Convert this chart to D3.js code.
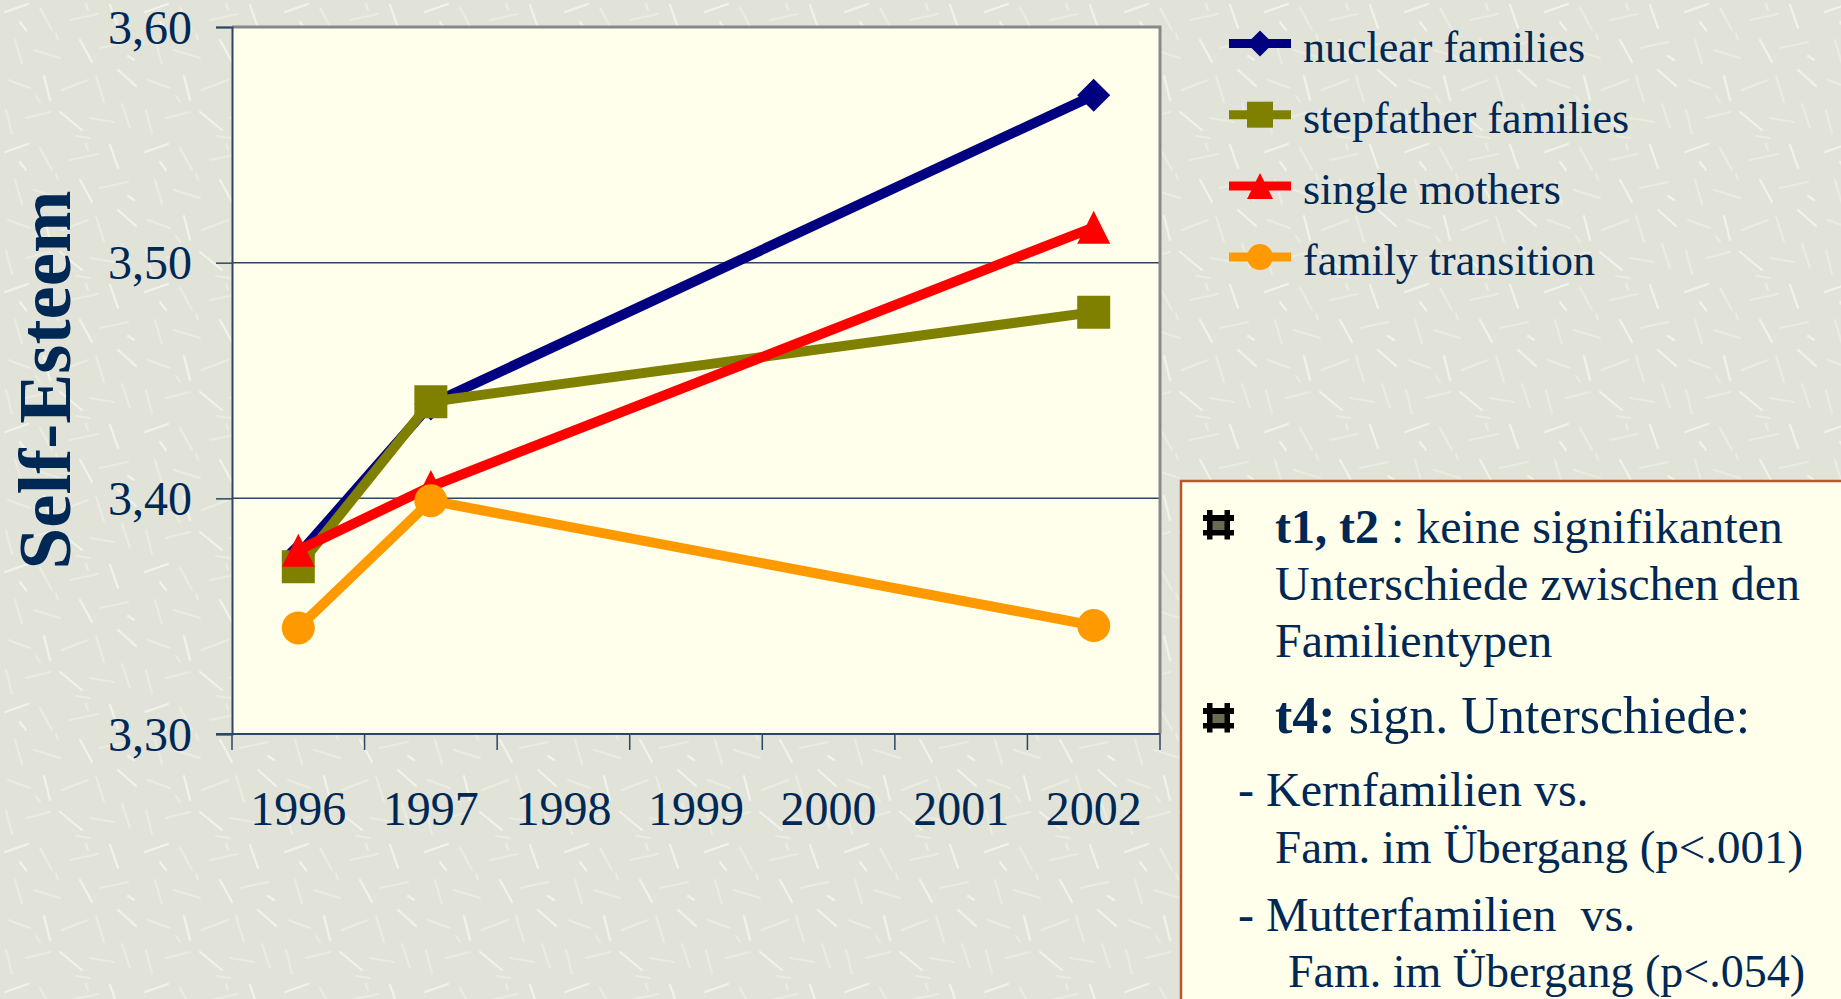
<!DOCTYPE html>
<html>
<head>
<meta charset="utf-8">
<script src="https://cdn.jsdelivr.net/npm/d3@7"></script>
<style>
  body { margin: 0; overflow: hidden; background: #e3e4d9; }
  text { font-family: "Liberation Serif", "Times New Roman", serif; }
</style>
</head>
<body>
<script>
// chart values
const years = ["1996", "1997", "1998", "1999", "2000", "2001", "2002"];
const measureYears = ["1996", "1997", "2002"];
const yTicks = [3.30, 3.40, 3.50, 3.60];
const yTickLabels = ["3,30", "3,40", "3,50", "3,60"];

const nuclear = [3.376, 3.440, 3.571];
const stepfather = [3.371, 3.441, 3.479];
const singleMothers = [3.378, 3.405, 3.515];
const transition = [3.345, 3.399, 3.346];

const seriesNames = ["nuclear families", "stepfather families", "single mothers", "family transition"];
const seriesColors = ["#000080", "#808000", "#ff0000", "#ff9900"];
const seriesShapes = ["diamond", "square", "triangle", "circle"];
const seriesValues = [nuclear, stepfather, singleMothers, transition];

const textColor = "#002855";
const axisColor = "#2b4766";

let W = 1841, H = 999;
let svg = d3.select("body").append("svg")
    .attr("width", W)
    .attr("height", H);

// textured slide background (decoration only)
let defs = svg.append("defs");
let pat = defs.append("pattern")
    .attr("id", "tex")
    .attr("patternUnits", "userSpaceOnUse")
    .attr("width", 140).attr("height", 140);
pat.append("rect").attr("width", 140).attr("height", 140).attr("fill", "#e2e3d8");
const strokes = [
  [5,12,28,4],[40,8,52,30],[70,20,98,14],[110,5,118,28],[15,40,22,64],[34,50,60,58],
  [80,40,92,62],[100,48,128,42],[8,80,30,88],[44,76,50,100],[62,90,88,80],[96,76,104,102],
  [118,70,136,86],[6,110,12,134],[26,118,50,112],[60,112,82,130],[90,118,114,122],[122,104,130,128],
  [20,22,26,30],[86,4,88,10],[56,34,58,40],[128,56,134,60],[36,96,40,102],[76,136,90,138]
];
pat.selectAll("line").data(strokes).enter().append("line")
    .attr("x1", d => d[0]).attr("y1", d => d[1])
    .attr("x2", d => d[2]).attr("y2", d => d[3])
    .attr("stroke", (d, i) => i % 3 == 0 ? "#f1f2eb" : "#eaebe2")
    .attr("stroke-width", 2.2)
    .attr("stroke-linecap", "round");
svg.append("rect").attr("width", W).attr("height", H).attr("fill", "url(#tex)");

// plot area
let plot = { left: 232, right: 1160, top: 27, bottom: 734 };

let x = d3.scaleBand().domain(years).range([plot.left, plot.right]).padding(0);
let y = d3.scaleLinear().domain([3.30, 3.60]).range([plot.bottom, plot.top]);
let cx = d => x(d) + x.bandwidth() / 2;

svg.append("rect")
    .attr("x", plot.left).attr("y", plot.top)
    .attr("width", plot.right - plot.left).attr("height", plot.bottom - plot.top)
    .attr("fill", "#ffffeb");

// gridlines
svg.append("g").selectAll("line")
    .data(yTicks.filter(d => d > 3.30 && d < 3.60))
    .enter().append("line")
    .attr("x1", plot.left).attr("x2", plot.right)
    .attr("y1", d => y(d)).attr("y2", d => y(d))
    .attr("stroke", axisColor).attr("stroke-width", 1.5);

// gray plot border (top, right)
svg.append("path")
    .attr("d", `M${plot.left},${plot.top}H${plot.right}V${plot.bottom}`)
    .attr("fill", "none").attr("stroke", "#888888").attr("stroke-width", 3);

// y axis
let yAxis = svg.append("g")
    .attr("transform", `translate(${plot.left},0)`)
    .call(d3.axisLeft(y).tickValues(yTicks)
        .tickFormat((d, i) => yTickLabels[i])
        .tickSize(16).tickPadding(24));
yAxis.select(".domain").attr("stroke", axisColor).attr("stroke-width", 2);
yAxis.selectAll(".tick line").attr("stroke", axisColor).attr("stroke-width", 1.5);
yAxis.selectAll("text")
    .attr("font-family", "Liberation Serif").attr("font-size", 48)
    .attr("fill", textColor).attr("dy", "0.34em");

// x axis: labels centred in the categories, ticks on the boundaries
let xAxis = svg.append("g")
    .attr("transform", `translate(0,${plot.bottom})`)
    .call(d3.axisBottom(x).tickSize(0).tickPadding(57));
xAxis.select(".domain").remove();
xAxis.selectAll("text")
    .attr("font-family", "Liberation Serif").attr("font-size", 48)
    .attr("fill", textColor);

svg.append("line")
    .attr("x1", plot.left - 16).attr("x2", plot.right)
    .attr("y1", plot.bottom).attr("y2", plot.bottom)
    .attr("stroke", axisColor).attr("stroke-width", 2);
svg.append("g").selectAll("line")
    .data(years.map(d => x(d)).concat([plot.right]))
    .enter().append("line")
    .attr("x1", d => d).attr("x2", d => d)
    .attr("y1", plot.bottom).attr("y2", plot.bottom + 16)
    .attr("stroke", axisColor).attr("stroke-width", 1.5);

// y axis title
svg.append("text")
    .attr("transform", "translate(70,380) rotate(-90)")
    .attr("text-anchor", "middle")
    .attr("font-size", 75).attr("font-weight", "bold")
    .attr("fill", textColor)
    .text("Self-Esteem");

// marker shapes
function marker(shape, r) {
  if (shape == "diamond") return `M0,${-r}L${r},0L0,${r}L${-r},0Z`;
  if (shape == "square") return `M${-r},${-r}H${r}V${r}H${-r}Z`;
  if (shape == "triangle") return `M0,${-r}L${r},${r}L${-r},${r}Z`;
  return d3.arc()({ innerRadius: 0, outerRadius: r, startAngle: 0, endAngle: 2 * Math.PI });
}

let line = d3.line().x(d => cx(d.year)).y(d => y(d.value));

seriesValues.forEach((vals, s) => {
  let pts = vals.map((v, i) => ({ year: measureYears[i], value: v }));
  let g = svg.append("g");
  g.append("path")
      .attr("d", line(pts))
      .attr("fill", "none")
      .attr("stroke", seriesColors[s])
      .attr("stroke-width", 10)
      .attr("stroke-linejoin", "miter");
  g.selectAll(".mk").data(pts).enter().append("path")
      .attr("class", "mk")
      .attr("transform", d => `translate(${cx(d.year)},${y(d.value)})`)
      .attr("d", marker(seriesShapes[s], 16.5))
      .attr("fill", seriesColors[s]);
});

// legend
let legend = svg.append("g");
seriesNames.forEach((name, i) => {
  let ly = 43.5 + i * 71.2;
  legend.append("line")
      .attr("x1", 1229).attr("x2", 1291)
      .attr("y1", ly).attr("y2", ly)
      .attr("stroke", seriesColors[i]).attr("stroke-width", 9);
  legend.append("path")
      .attr("transform", `translate(1260,${ly})`)
      .attr("d", marker(seriesShapes[i], 13))
      .attr("fill", seriesColors[i]);
  legend.append("text")
      .attr("x", 1303).attr("y", ly + 18)
      .attr("font-size", 44).attr("fill", textColor)
      .text(name);
});

// text box
let box = svg.append("g");
box.append("rect")
    .attr("x", 1181).attr("y", 481)
    .attr("width", 700).attr("height", 560)
    .attr("fill", "#ffffeb")
    .attr("stroke", "#b5592b").attr("stroke-width", 2.5);

function bullet(bx, by) {
  let b = box.append("g").attr("transform", `translate(${bx},${by})`);
  b.append("rect").attr("x", 8).attr("y", 10).attr("width", 15).attr("height", 11).attr("fill", "#6b6b52");
  b.append("rect").attr("x", 0).attr("y", 5).attr("width", 31).attr("height", 6).attr("fill", "#000");
  b.append("rect").attr("x", 0).attr("y", 20).attr("width", 31).attr("height", 5.5).attr("fill", "#000");
  b.append("rect").attr("x", 4).attr("y", 0).attr("width", 5.5).attr("height", 29.5).attr("fill", "#000");
  b.append("rect").attr("x", 21.5).attr("y", 0).attr("width", 5.5).attr("height", 29.5).attr("fill", "#000");
}
bullet(1203, 510);
bullet(1203, 703);

const boxLines = [
  { x: 1275, y: 542.5, size: 48, bold: "t1, t2", rest: " : keine signifikanten" },
  { x: 1275, y: 600, size: 48, bold: "", rest: "Unterschiede zwischen den" },
  { x: 1275, y: 657, size: 48, bold: "", rest: "Familientypen" },
  { x: 1275, y: 733, size: 52, bold: "t4:", rest: " sign. Unterschiede:" },
  { x: 1238, y: 806, size: 48, bold: "", rest: "- Kernfamilien vs." },
  { x: 1275, y: 863, size: 47, bold: "", rest: "Fam. im Übergang (p<.001)" },
  { x: 1238, y: 931, size: 48, bold: "", rest: "- Mutterfamilien\u00a0 vs." },
  { x: 1288, y: 987, size: 46, bold: "", rest: "Fam. im Übergang (p<.054)" }
];
boxLines.forEach(l => {
  let t = box.append("text")
      .attr("x", l.x).attr("y", l.y)
      .attr("font-size", l.size).attr("fill", textColor)
      .attr("xml:space", "preserve");
  if (l.bold) t.append("tspan").attr("font-weight", "bold").text(l.bold);
  t.append("tspan").text(l.rest);
});
</script>
</body>
</html>
